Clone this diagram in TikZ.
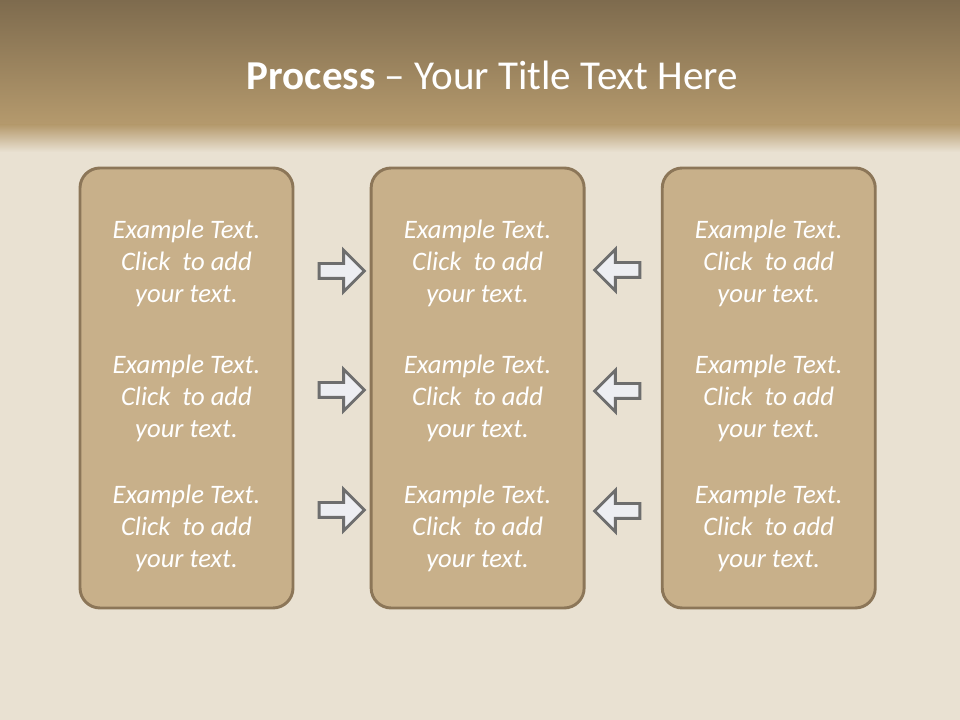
\documentclass[tikz,border=0pt]{standalone}
\usepackage{fontspec}
\setmainfont{Carlito}
\usepackage{tikz}
\usetikzlibrary{positioning,calc,shapes.arrows}

\definecolor{bandtop}{HTML}{7E6B4E}
\definecolor{bandbot}{HTML}{B59A6D}
\definecolor{paper}{HTML}{E9E1D2}
\definecolor{panelfill}{HTML}{C8B08A}
\definecolor{paneledge}{HTML}{8C7658}
\definecolor{arrowfill}{HTML}{EDEEF2}
\definecolor{arrowedge}{HTML}{6E6E6E}

\begin{document}
\begin{tikzpicture}[
  x=0.75pt, y=0.75pt,
  node distance=56.4pt,
  panel/.style={draw=paneledge, fill=panelfill, line width=2.2pt,
    rounded corners=15pt, minimum width=159.75pt, minimum height=330pt,
    inner sep=0pt},
  blurb/.style={align=center, text=white, inner sep=0pt,
    font=\fontsize{20}{24}\selectfont\itshape},
  flow/.style={single arrow, draw=arrowedge, fill=arrowfill, line width=2.2pt,
    minimum height=34pt, inner sep=4.5pt, single arrow head extend=10pt,
    single arrow head indent=0pt},
]
\useasboundingbox (0,0) rectangle (960,720);
% background
\fill[paper] (0,0) rectangle (960,720);
\shade[top color=bandtop, bottom color=bandbot] (0,720) rectangle (960,595);
\shade[top color=bandbot, bottom color=paper] (0,595.2) rectangle (960,568);

\node[text=white, font=\fontsize{30.8}{34}\selectfont] (title) at (492.5,645)
  {\textbf{Process} -- Your Title Text Here};

% three panels
\node[panel] (left) at (186.5,332) {};
\node[panel, right=of left] (mid) {};
\node[panel, right=of mid] (right) {};

% texts
\foreach \p in {left,mid,right}{
  \node[blurb] (\p-a) at ($(\p.center)+(0,125)$) {Example Text.\\Click\ \ to add\\your text.};
  \node[blurb] (\p-b) at ($(\p.center)+(0,-10)$) {Example Text.\\Click\ \ to add\\your text.};
  \node[blurb] (\p-c) at ($(\p.center)+(0,-140)$) {Example Text.\\Click\ \ to add\\your text.};
}

% arrows
\node[flow] (ra) at (338,449) {};
\node[flow] (rb) at (338,330) {};
\node[flow] (rc) at (338,210) {};
\node[flow, shape border rotate=180] (la) at (621,450) {};
\node[flow, shape border rotate=180] (lb) at (621,329) {};
\node[flow, shape border rotate=180] (lc) at (621,209) {};
\end{tikzpicture}
\end{document}
